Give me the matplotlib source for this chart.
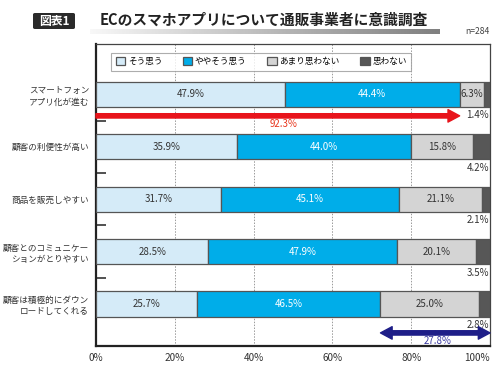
import matplotlib
matplotlib.use("Agg")
import matplotlib.pyplot as plt
import numpy as np
from matplotlib.patches import FancyBboxPatch

plt.rcParams['font.family'] = ['Noto Sans CJK JP', 'DejaVu Sans']

categories = ["スマートフォン\nアプリ化が進む", "顧客の利便性が高い", "商品を販売しやすい",
              "顧客とのコミュニケー\nションがとりやすい", "顧客は積極的にダウン\nロードしてくれる"]
series_names = ["そう思う", "ややそう思う", "あまり思わない", "思わない"]
sou = [47.9, 35.9, 31.7, 28.5, 25.7]
yaya = [44.4, 44.0, 45.1, 47.9, 46.5]
amari = [6.3, 15.8, 21.1, 20.1, 25.0]
omowanai = [1.4, 4.2, 2.1, 3.5, 2.8]
xticks = [0, 20, 40, 60, 80, 100]
xticklabels = ["0%", "20%", "40%", "60%", "80%", "100%"]
red_total = 92.3
blue_total = 27.8

colors = ["#d5ebf8", "#00ade9", "#d4d4d4", "#575757"]
label_colors = ["#333333", "white", "#333333", None]

fig = plt.figure(figsize=(5, 3.75), dpi=100)
ax = fig.add_axes([0.192, 0.0773, 0.788, 0.8053])

y = np.arange(len(categories))
h = 0.48
series = [sou, yaya, amari, omowanai]
left = np.zeros(len(categories))
for k, vals in enumerate(series):
    vals = np.array(vals)
    ax.barh(y, vals, left=left, height=h, color=colors[k], edgecolor="#555555",
            linewidth=0.9, zorder=3, label=series_names[k])
    for i, v in enumerate(vals):
        if k < 3:
            ax.text(left[i] + v / 2, y[i], f"{v}%", ha="center", va="center",
                    fontsize=7, color=label_colors[k], zorder=5)
        else:
            ax.text(99.7, y[i] + 0.40, f"{v}%", ha="right", va="center",
                    fontsize=7, color="#333333", zorder=5)
    left = left + vals

ax.set_xlim(0, 100)
ax.set_ylim(4.8, -0.96)
ax.set_xticks(xticks)
ax.set_xticklabels(xticklabels, fontsize=7.2, color="#333333")
ax.get_xticklabels()[-1].set_horizontalalignment("right")
ax.tick_params(axis="x", length=0, pad=5)
ax.set_yticks(y)
ax.set_yticklabels(categories, fontsize=6.2, color="#333333", linespacing=1.3)
ax.tick_params(axis="y", which="major", length=0, pad=5)
ax.set_yticks([0.5, 1.5, 2.5, 3.5], minor=True)
ax.tick_params(axis="y", which="minor", direction="in", length=7, width=1.2, color="#333333")
for gx in [20, 40, 60, 80]:
    ax.axvline(gx, color="#9a9a9a", linestyle=(0, (1.5, 1.5)), linewidth=0.7, zorder=1)

for s in ["left", "bottom"]:
    ax.spines[s].set_linewidth(1.6)
    ax.spines[s].set_color("#222222")
for s in ["top", "right"]:
    ax.spines[s].set_linewidth(0.9)
    ax.spines[s].set_color("#444444")

leg = ax.legend(loc="upper left", bbox_to_anchor=(0.028, 0.985), ncol=4, fontsize=6.2,
                frameon=True, fancybox=False, edgecolor="#999999", handlelength=1.1,
                handleheight=1.1, columnspacing=2.4, handletextpad=0.3,
                borderpad=0.5)
leg.get_frame().set_linewidth(0.8)
leg.set_zorder(6)

# red arrow
ax.annotate("", xy=(red_total, 0.41), xytext=(0, 0.41),
            arrowprops=dict(arrowstyle="simple,head_length=0.7,head_width=0.75,tail_width=0.26",
                            color="#e8141b", shrinkA=0, shrinkB=0, mutation_scale=12),
            zorder=6)
ax.text(47.5, 0.56, f"{red_total}%", ha="center", va="center", fontsize=7,
        color="#e8341b", zorder=6)

# blue double arrow
bstart = 100 - blue_total
mid = (bstart + 100) / 2
for end in [bstart, 100]:
    ax.annotate("", xy=(end, 4.55), xytext=(mid, 4.55),
                arrowprops=dict(arrowstyle="simple,head_length=0.7,head_width=0.75,tail_width=0.26",
                                color="#1e1e88", shrinkA=0, shrinkB=0, mutation_scale=12),
                zorder=6)
ax.text(86.8, 4.70, f"{blue_total}%", ha="center", va="center", fontsize=7,
        color="#3a3aa0", zorder=6)

# header
fig.patches.append(FancyBboxPatch((33 / 500, 1 - 29 / 375), 42 / 500, 16 / 375,
                                  boxstyle="round,pad=0,rounding_size=0.004",
                                  transform=fig.transFigure, facecolor="#2a2a2a",
                                  edgecolor="none"))
fig.text(54 / 500, 1 - 21 / 375, "図表1", ha="center", va="center", fontsize=8.5,
         color="white", fontweight="bold")
gax = fig.add_axes([90 / 500, 1 - 34 / 375, 350 / 500, 5 / 375])
grad = np.linspace(0.97, 0.5, 256).reshape(1, -1)
gax.imshow(grad, aspect="auto", cmap="gray", vmin=0, vmax=1, extent=[0, 1, 0, 1])
gax.axis("off")
fig.text(100 / 500, 1 - 20 / 375, "ECのスマホアプリについて通販事業者に意識調査",
         ha="left", va="center", fontsize=10.6, fontweight="bold", color="#222222")
fig.text(490 / 500, 1 - 31 / 375, "n=284", ha="right", va="center", fontsize=6.2,
         color="#444444")

fig.savefig("out.png", dpi=100)
